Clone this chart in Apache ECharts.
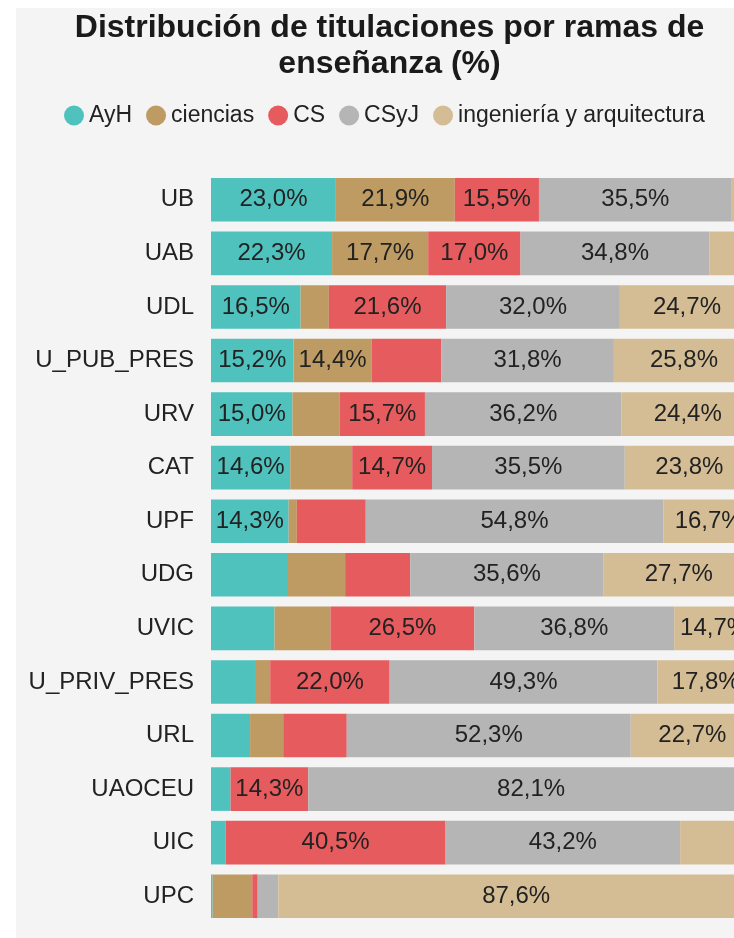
<!DOCTYPE html>
<html>
<head>
<meta charset="utf-8">
<script src="https://cdn.jsdelivr.net/npm/echarts@6/dist/echarts.min.js"></script>
<style>
  html, body { margin: 0; padding: 0; background: #fff; overflow: hidden; }
  #chart { position: absolute; left: 16px; top: 8px; width: 747px; height: 930px; background: #f4f4f4; }
</style>
</head>
<body>
<div id="chart"></div>
<script>
var universidades = ['UB', 'UAB', 'UDL', 'U_PUB_PRES', 'URV', 'CAT', 'UPF', 'UDG', 'UVIC', 'U_PRIV_PRES', 'URL', 'UAOCEU', 'UIC', 'UPC'];

var ramas = ['AyH', 'ciencias', 'CS', 'CSyJ', 'ingeniería y arquitectura'];
var colores = ['#4fc2be', '#bd9b63', '#e65b5e', '#b5b5b5', '#d4bd95'];

var ayh        = [23.0, 22.3, 16.5, 15.2, 15.0, 14.6, 14.3, 14.0, 11.7, 8.1, 7.2, 3.6, 2.7, 0.3];
var ciencias   = [21.9, 17.7, 5.2, 14.4, 8.7, 11.4, 1.5, 10.7, 10.3, 2.8, 6.1, 0, 0, 7.3];
var cs         = [15.5, 17.0, 21.6, 12.8, 15.7, 14.7, 12.7, 12.0, 26.5, 22.0, 11.7, 14.3, 40.5, 1.0];
var csyj       = [35.5, 34.8, 32.0, 31.8, 36.2, 35.5, 54.8, 35.6, 36.8, 49.3, 52.3, 82.1, 43.2, 3.8];
var ingenieria = [4.1, 8.2, 24.7, 25.8, 24.4, 23.8, 16.7, 27.7, 14.7, 17.8, 22.7, 0, 13.6, 87.6];

var valores = [ayh, ciencias, cs, csyj, ingenieria];

var myChart = echarts.init(document.getElementById('chart'));

var series = ramas.map(function (nombre, i) {
    return {
        name: nombre,
        type: 'bar',
        stack: 'total',
        barCategoryGap: '18.6%',
        itemStyle: { color: colores[i] },
        label: {
            show: true,
            position: 'inside',
            color: '#222',
            fontSize: 24,
            fontFamily: 'Liberation Sans',
            formatter: function (p) {
                if (p.value <= 14) return '';
                return p.value.toFixed(1).replace('.', ',') + '%';
            }
        },
        data: valores[i]
    };
});

var option = {
    backgroundColor: '#f4f4f4',
    title: {
        text: 'Distribución de titulaciones por ramas de\nenseñanza (%)',
        left: 'center',
        top: 2,
        padding: 0,
        textStyle: {
            fontFamily: 'Liberation Sans',
            fontSize: 32,
            fontWeight: 'bold',
            color: '#1a1a1a',
            lineHeight: 36
        }
    },
    legend: {
        top: 91,
        left: 43,
        icon: 'circle',
        itemWidth: 20,
        itemHeight: 20,
        itemGap: 14,
        textStyle: {
            fontFamily: 'Liberation Sans',
            fontSize: 23,
            color: '#222'
        }
    },
    grid: {
        left: 195,
        right: 9,
        top: 165,
        bottom: 15
    },
    xAxis: {
        type: 'value',
        min: 0,
        max: 100,
        show: false
    },
    yAxis: {
        type: 'category',
        inverse: true,
        data: universidades,
        axisLine: { show: false },
        axisTick: { show: false },
        axisLabel: {
            margin: 17,
            fontFamily: 'Liberation Sans',
            fontSize: 24,
            color: '#222'
        }
    },
    series: series
};

myChart.setOption(option);
</script>
</body>
</html>
